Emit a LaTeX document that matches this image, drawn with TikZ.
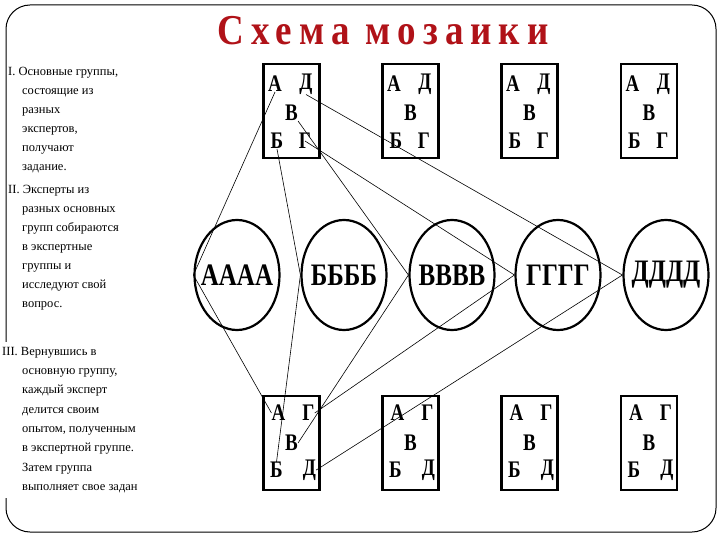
\documentclass[tikz,border=0pt]{standalone}
\usepackage{fontspec}
\setmainfont{Liberation Serif}
\usepackage{graphicx}
\usetikzlibrary{shapes.geometric}
\definecolor{titlered}{HTML}{B01218}
\newcommand{\tallglyph}[1]{\scalebox{1}[1.25]{#1}}

\begin{document}
\begin{tikzpicture}[x=1pt,y=-1pt,
  frame/.style={draw,line width=1pt,rounded corners=24pt},
  note/.style={align=left,anchor=north west,inner sep=0pt,font=\fontsize{12.5}{19}\selectfont},
  box/.style={draw,line width=2.4pt,minimum width=56pt,minimum height=94pt,inner sep=0pt},
  glyph/.style={inner sep=0pt,font=\bfseries\fontsize{19}{19}\selectfont},
  group/.style={ellipse,draw,line width=2.2pt,minimum width=85pt,minimum height=110pt,inner sep=0pt},
  gtext/.style={inner sep=0pt,font=\bfseries\fontsize{25}{25}\selectfont},
  link/.style={line width=0.6pt}]
\useasboundingbox (0,0) rectangle (720,540);
\draw[frame] (6,5) rectangle (716,532);
\node[text=titlered,font=\bfseries\fontsize{37}{37}\selectfont\addfontfeature{LetterSpace=19}] (title) at (383,31) {\scalebox{1}[1.15]{Схема мозаики}};

% steps of the method
\node[note] (stepI) at (8,67) {I. Основные группы,\\\hspace*{14pt}состоящие из\\\hspace*{14pt}разных\\\hspace*{14pt}экспертов,\\\hspace*{14pt}получают\\\hspace*{14pt}задание.};
\node[note] (stepII) at (8,185) {II. Эксперты из\\\hspace*{14pt}разных основных\\\hspace*{14pt}групп собираются\\\hspace*{14pt}в экспертные\\\hspace*{14pt}группы и\\\hspace*{14pt}исследуют свой\\\hspace*{14pt}вопрос.};
\node[note,fill=white,inner ysep=5pt,font=\fontsize{12.5}{19.3}\selectfont] (stepIII) at (2,342) {III. Вернувшись в\\\hspace*{20pt}основную группу,\\\hspace*{20pt}каждый эксперт\\\hspace*{20pt}делится своим\\\hspace*{20pt}опытом, полученным\\\hspace*{20pt}в экспертной группе.\\\hspace*{20pt}Затем группа\\\hspace*{20pt}выполняет свое задан};

% home groups, top and bottom
\foreach \i/\x in {1/291.5,2/410.5,3/529.5,4/649}{
  \node[box] (top\i) at (\x,111) {};
  \node[glyph] (t\i A) at (\x-16.5,84) {\tallglyph{А}};
  \node[glyph] (t\i D) at (\x+14.5,84) {\tallglyph{Д}};
  \node[glyph] (t\i V) at (\x,113) {\tallglyph{В}};
  \node[glyph] (t\i B) at (\x-14.5,141) {\tallglyph{Б}};
  \node[glyph] (t\i G) at (\x+13.5,141) {\tallglyph{Г}};
  \node[box] (bot\i) at (\x,443) {};
  \node[glyph] (b\i A) at (\x-13,413) {\tallglyph{А}};
  \node[glyph] (b\i G) at (\x+17,413) {\tallglyph{Г}};
  \node[glyph] (b\i V) at (\x,443) {\tallglyph{В}};
  \node[glyph] (b\i B) at (\x-15,470) {\tallglyph{Б}};
  \node[glyph] (b\i D) at (\x+18,470) {\tallglyph{Д}};
}

% expert groups
\foreach \n/\x/\t in {A/237/АААА,B/344/ББББ,V/452/ВВВВ,G/558/ГГГГ,D/666/ДДДД}
  \node[group,label={[gtext]center:\tallglyph{\t}}] (e\n) at (\x,275) {};

\draw[link] (t1A.south) -- (eA.west) -- (b1A.west);
\draw[link] (t1B.south) -- (eB.west) -- (b1B.north);
\draw[link] (t1V.south east) -- (eV.west) -- (b1V.east);
\draw[link] (t1G.center) -- (eG.west) -- (b1G.east);
\draw[link] (t1D.south) -- (eD.west) -- (b1D.east);
\end{tikzpicture}
\end{document}
